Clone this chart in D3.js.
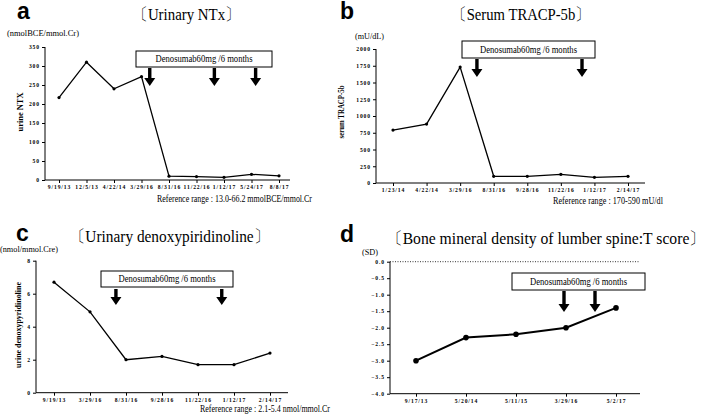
<!DOCTYPE html>
<html>
<head>
<meta charset="utf-8">
<script src="https://cdn.jsdelivr.net/npm/d3@7"></script>
<style>
  html, body { margin: 0; padding: 0; background: #fff; }
  svg { display: block; }
</style>
</head>
<body>
<div id="chart"></div>
<script>
// ---- data ----
const ntxDates = ["9/19/13", "12/5/13", "4/22/14", "3/29/16", "8/31/16", "11/22/16", "1/12/17", "5/24/17", "8/8/17"];
const ntxValues = [217, 310, 240, 272, 10, 9, 7, 15, 11];
const ntxTicks = [0, 50, 100, 150, 200, 250, 300, 350];

const tracpDates = ["1/23/14", "4/22/14", "3/29/16", "8/31/16", "9/28/16", "11/22/16", "1/12/17", "2/14/17"];
const tracpValues = [790, 880, 1730, 100, 100, 130, 85, 100];
const tracpTicks = [0, 250, 500, 750, 1000, 1250, 1500, 1750, 2000];

const dpdDates = ["9/19/13", "3/29/16", "8/31/16", "9/28/16", "11/22/16", "1/12/17", "2/14/17"];
const dpdValues = [6.7, 4.9, 2.0, 2.2, 1.7, 1.7, 2.4];
const dpdTicks = [0, 2, 4, 6, 8];

const bmdDates = ["9/17/13", "5/20/14", "5/11/15", "3/29/16", "5/2/17"];
const bmdValues = [-3.0, -2.3, -2.2, -2.0, -1.4];
const bmdTicks = [0, -0.5, -1, -1.5, -2, -2.5, -3, -3.5, -4];

// injection times, as fractional index along each panel's dates
const ntxDoses = [3.3, 5.65, 7.15];
const tracpDoses = [2.5, 5.63];
const dpdDoses = [1.72, 4.66];
const bmdDoses = [2.96, 3.58];

const doseLabel = "Denosumab60mg /6 months";
const SERIF = "'Liberation Serif', 'Times New Roman', Times, serif";

const svg = d3.select("#chart").append("svg")
  .attr("width", 709).attr("height", 415)
  .attr("viewBox", "0 0 709 415");

// serif text squeezed/stretched to the width seen in the picture
function serifText(g, x, y, size, str, width) {
  const t = g.append("text")
    .attr("x", x).attr("y", y)
    .attr("font-family", SERIF)
    .attr("font-size", size)
    .attr("fill", "#000")
    .text(str);
  if (width) t.attr("textLength", width).attr("lengthAdjust", "spacingAndGlyphs");
  return t;
}

function drawPanel(p) {
  const g = svg.append("g");

  const x = d3.scalePoint().domain(p.dates).range([p.xFirst, p.xLast]);
  const y = d3.scaleLinear().domain(p.domain).range([p.yBottom, p.yTop]);

  // axes
  const ax = g.append("g")
    .attr("transform", `translate(0,${p.yBottom})`)
    .call(d3.axisBottom(x).tickSize(3).tickPadding(2));
  ax.select(".domain").remove();
  ax.append("line").attr("x1", p.axisX).attr("x2", p.xEnd)
    .attr("stroke", "#000").attr("stroke-width", 1);

  const ay = g.append("g")
    .attr("transform", `translate(${p.axisX},0)`)
    .call(d3.axisLeft(y).tickValues(p.ticks).tickSize(3).tickPadding(2)
      .tickFormat(p.format || d3.format("d")));
  ay.select(".domain").attr("d", `M0,${p.yTop}V${p.yBottom}`).attr("stroke", "#000");

  [ax, ay].forEach(a => {
    a.attr("font-family", SERIF).attr("font-size", 5.6).attr("font-weight", "bold");
    a.selectAll(".tick text").attr("letter-spacing", 0.9).attr("fill", "#000");
    a.selectAll(".tick line").attr("stroke", "#000");
  });

  if (p.zeroLine) {
    g.append("line")
      .attr("x1", p.axisX).attr("x2", p.xEnd)
      .attr("y1", y(0)).attr("y2", y(0))
      .attr("stroke", "#000").attr("stroke-width", 0.8)
      .attr("stroke-dasharray", "1,1.5");
  }

  // series
  const pts = p.dates.map((d, i) => ({ d, v: p.values[i] }));
  g.append("path")
    .datum(pts)
    .attr("fill", "none")
    .attr("stroke", "#000")
    .attr("stroke-width", p.lineWidth || 1.3)
    .attr("d", d3.line().x(d => x(d.d)).y(d => y(d.v)));

  g.selectAll(".pt")
    .data(pts)
    .join("circle")
    .attr("cx", d => x(d.d))
    .attr("cy", d => y(d.v))
    .attr("r", p.dotR || 1.6)
    .attr("fill", "#000");

  // dose box + arrows
  g.append("rect")
    .attr("x", p.box[0]).attr("y", p.box[1])
    .attr("width", p.box[2] - p.box[0]).attr("height", p.box[3] - p.box[1])
    .attr("fill", "#fff").attr("stroke", "#000").attr("stroke-width", 1);
  serifText(g, (p.box[0] + p.box[2]) / 2, (p.box[1] + p.box[3]) / 2 + 3.3, 10, doseLabel, 97)
    .attr("text-anchor", "middle");

  const step = x.step();
  p.doses.forEach(idx => {
    const cx = p.xFirst + idx * step;
    const t = p.arrow[0], b = p.arrow[1];
    const hl = 8, hw = 5.5, sw = 1.7;
    g.append("path")
      .attr("d", `M${cx - sw},${t}H${cx + sw}V${b - hl}H${cx + hw}L${cx},${b}L${cx - hw},${b - hl}H${cx - sw}Z`)
      .attr("fill", "#000");
  });

  // texts
  g.append("text")
    .attr("x", p.letter[0]).attr("y", p.letter[1])
    .attr("font-family", "'Liberation Sans', Arial, sans-serif")
    .attr("font-weight", "bold").attr("font-size", 23)
    .text(p.letterText);

  serifText(g, p.title[0], p.title[1], 17, p.titleText, p.title[2]);

  serifText(g, p.unit[0], p.unit[1], 8.5, p.unitText, p.unit[2]);

  if (p.yLabelText) {
    g.append("text")
      .attr("transform", `translate(${p.yLabel[0]},${p.yLabel[1]}) rotate(-90)`)
      .attr("text-anchor", "middle")
      .attr("font-family", SERIF)
      .attr("font-size", 7.5).attr("font-weight", "bold")
      .attr("textLength", p.yLabel[2]).attr("lengthAdjust", "spacingAndGlyphs")
      .text(p.yLabelText);
  }

  if (p.refText) {
    serifText(g, p.ref[0], p.ref[1], 9.5, p.refText, p.ref[2]);
  }
}

drawPanel({
  dates: ntxDates, values: ntxValues, ticks: ntxTicks, domain: [0, 350], doses: ntxDoses,
  axisX: 45, xFirst: 59, xLast: 279, xEnd: 290, yTop: 47, yBottom: 180,
  box: [136, 51, 272, 67], arrow: [68, 86],
  letterText: "a", letter: [17, 19],
  titleText: "〔Urinary NTx〕", title: [133, 19.5, 107],
  unitText: "(nmolBCE/mmol.Cr)", unit: [7, 36, 72],
  yLabelText: "urine NTX", yLabel: [23, 112, 39],
  refText: "Reference range : 13.0-66.2 mmolBCE/mmol.Cr", ref: [157, 202, 155]
});

drawPanel({
  dates: tracpDates, values: tracpValues, ticks: tracpTicks, domain: [0, 2000], doses: tracpDoses,
  axisX: 376, xFirst: 393, xLast: 628, xEnd: 645, yTop: 49, yBottom: 183,
  box: [462, 41, 595, 58], arrow: [59, 77],
  letterText: "b", letter: [340, 19],
  titleText: "〔Serum TRACP-5b〕", title: [452, 19.5, 138],
  unitText: "(mU/dL)", unit: [355, 39, 29],
  yLabelText: "serum TRACP-5b", yLabel: [344, 112, 53],
  refText: "Reference range : 170-590 mU/dl", ref: [553, 204, 110]
});

drawPanel({
  dates: dpdDates, values: dpdValues, ticks: dpdTicks, domain: [0, 8], doses: dpdDoses,
  axisX: 36, xFirst: 54, xLast: 270, xEnd: 288, yTop: 260.7, yBottom: 392.7,
  box: [101, 271, 233, 287], arrow: [289, 305],
  letterText: "c", letter: [16, 241],
  titleText: "〔Urinary denoxypiridinoline〕", title: [70, 242, 199],
  unitText: "(nmol/mmol.Cre)", unit: [0, 252, 58],
  yLabelText: "urine denoxypyridinoline", yLabel: [21, 325, 86],
  refText: "Reference range : 2.1-5.4 nmol/mmol.Cr", ref: [200, 412, 130]
});

drawPanel({
  dates: bmdDates, values: bmdValues, ticks: bmdTicks, domain: [-4, 0], doses: bmdDoses,
  format: d3.format(".1f"), zeroLine: true, lineWidth: 2, dotR: 2.8,
  axisX: 390, xFirst: 416, xLast: 616, xEnd: 640, yTop: 261.7, yBottom: 393.7,
  box: [512, 273, 645, 290], arrow: [291, 312],
  letterText: "d", letter: [340, 242],
  titleText: "〔Bone mineral density of lumber spine:T score〕", title: [387, 244, 318],
  unitText: "(SD)", unit: [362, 255, 16]
});
</script>
</body>
</html>
